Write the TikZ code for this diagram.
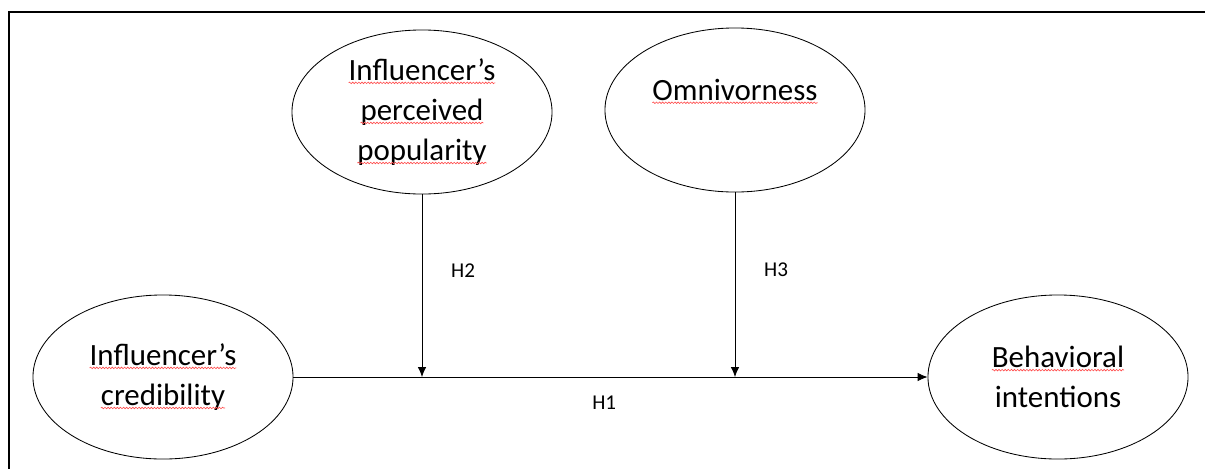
\documentclass[tikz,border=0pt]{standalone}
\usepackage{fontspec}
\setmainfont{Carlito}
\usetikzlibrary{arrows.meta, positioning, shapes.geometric, decorations.pathmorphing}

% red wavy underline, as the spell checker leaves it
\newcommand{\typo}[1]{\tikz[baseline=(w.base), x=1cm, y=1cm, line width=0.4pt]{%
  \node[rectangle, draw=none, minimum width=0pt, minimum height=0pt, inner sep=0pt, outer sep=0pt] (w) {#1};
  \draw[-, red!70!white, line width=0.45pt, decorate, decoration={snake, amplitude=0.55pt, segment length=2.2pt}]
    ([yshift=-1.8pt]w.base west) -- ([yshift=-1.8pt]w.base east);}}

\tikzset{
  construct/.style={ellipse, draw, line width=0.6pt, minimum width=6.5cm, minimum height=4.1cm,
    inner sep=0pt, align=center, font=\fontsize{22}{28.5}\selectfont},
  hyp/.style={font=\fontsize{15}{18}\selectfont}
}

\begin{document}
\begin{tikzpicture}[x=0.025cm, y=-0.025cm, ->, >={Latex[length=7pt,width=6pt]}, line width=0.6pt]

\useasboundingbox (0,0) rectangle (1205,468);

% Frame
\draw[-, line width=1.4pt] (9,480) -- (9,12) -- (1215,12);

% Define nodes
\node[construct] (cred) at (163,377) {\typo{Influencer’s}\\ \typo{credibility}};
\node[construct] (pop) at (422,112) {\typo{Influencer’s}\\ \typo{perceived}\\ \typo{popularity}};
\node[construct] (omni) at (735,110) {\typo{Omnivorness}\\[-8pt] \strut};
\node[construct] (behav) at (1058,377) {\typo{Behavioral}\\ intentions};

% Where the moderators meet the main path
\coordinate (j2) at (pop.south |- cred.east);
\coordinate (j3) at (omni.south |- cred.east);

% Draw edges
\draw (cred) -- node[hyp, pos=0.49, below=10pt] {H1} (behav);
\draw (pop) -- node[hyp, pos=0.42, right=0.6cm] {H2} (j2);
\draw (omni) -- node[hyp, pos=0.42, right=0.6cm] {H3} (j3);

\end{tikzpicture}
\end{document}
